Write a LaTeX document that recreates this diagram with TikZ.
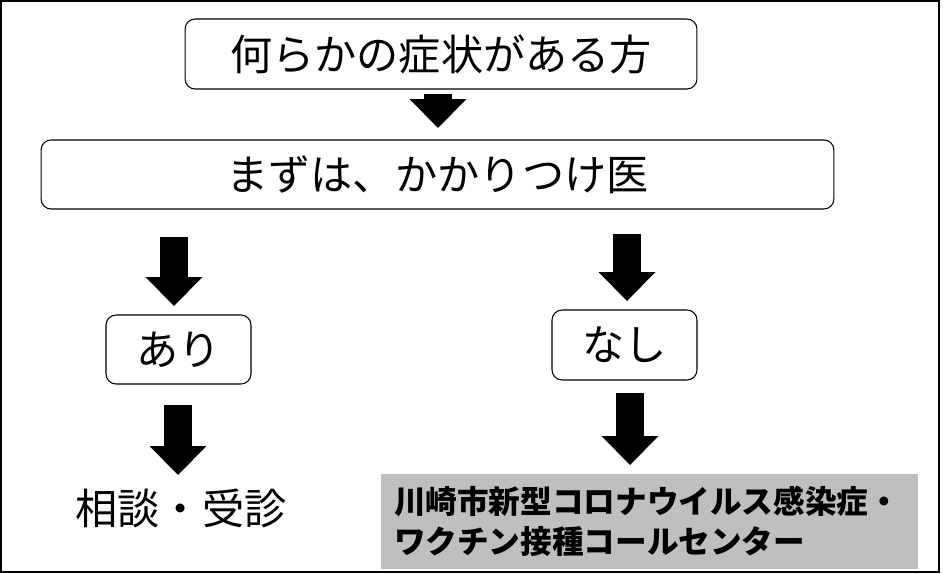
\documentclass[tikz,border=0pt]{standalone}
\usepackage{fontspec}
\usepackage{xcolor}
\usepackage{tikz}
\usetikzlibrary{arrows.meta}
\usetikzlibrary{backgrounds,positioning}
\newfontfamily\jp{Noto Sans CJK JP}
\definecolor{callgray}{RGB}{191,191,191}
\pgfdeclarelayer{edgelayer}
\pgfdeclarelayer{nodelayer}
\pgfsetlayers{background,edgelayer,nodelayer,main}
\tikzstyle{none}=[inner sep=0mm]
\tikzstyle{box}=[draw=black,line width=0.6pt,rounded corners=0.2cm,inner sep=0mm,font={\jp\fontsize{24}{28}\selectfont}]
\tikzstyle{plain}=[inner sep=0mm,font={\jp\fontsize{24}{28}\selectfont}]
\tikzstyle{callbox}=[fill=callgray,inner xsep=0.26cm,inner ysep=0mm,minimum height=1.9cm,text width=10.22cm,align=left,font={\jp\bfseries\fontsize{18}{22.8}\selectfont}]
\tikzstyle{blockarrow}=[line width=0.56cm,-{Triangle[width=1.14cm,length=0.58cm,line width=0pt]}]

\begin{document}
\begin{tikzpicture}[x=0.02cm,y=-0.02cm]
	\useasboundingbox (0,0) rectangle (943,574);
	\draw[line width=1.2pt] (1,1) rectangle (939,572);
	\begin{pgfonlayer}{nodelayer}
		\node [style=box,minimum width=10.24cm,minimum height=1.4cm] (q) at (441, 54) {何らかの症状がある方};
		\node [style=box,minimum width=15.86cm,minimum height=1.38cm] (first) at (437.5, 174.5) {まずは、かかりつけ医};
		\node [style=box,minimum width=2.9cm,minimum height=1.38cm] (yes) at (178.5, 349.5) {あり};
		\node [style=box,minimum width=2.9cm,minimum height=1.4cm] (no) at (624.5, 345) {なし};
		\node [style=plain] (consult) at (181, 508) {相談・受診};
		\node [style=callbox] (center) at (649.5, 521.5) {川崎市新型コロナウイルス感染症・\\ワクチン接種コールセンター};
		\coordinate (q1) at (438, 94);
		\coordinate (f1) at (438, 128);
		\coordinate (f2) at (174, 237);
		\coordinate (y1) at (174, 306);
		\coordinate (f3) at (627, 234);
		\coordinate (n1) at (627, 301);
		\coordinate (y2) at (178, 405);
		\coordinate (c1) at (178, 475);
		\coordinate (n2) at (630, 393);
		\coordinate (c2) at (630, 465);
	\end{pgfonlayer}
	\begin{pgfonlayer}{edgelayer}
		\draw[blockarrow] (q1) to (f1);
		\draw[blockarrow] (f2) to (y1);
		\draw[blockarrow] (f3) to (n1);
		\draw[blockarrow] (y2) to (c1);
		\draw[blockarrow] (n2) to (c2);
	\end{pgfonlayer}
\end{tikzpicture}
\end{document}
